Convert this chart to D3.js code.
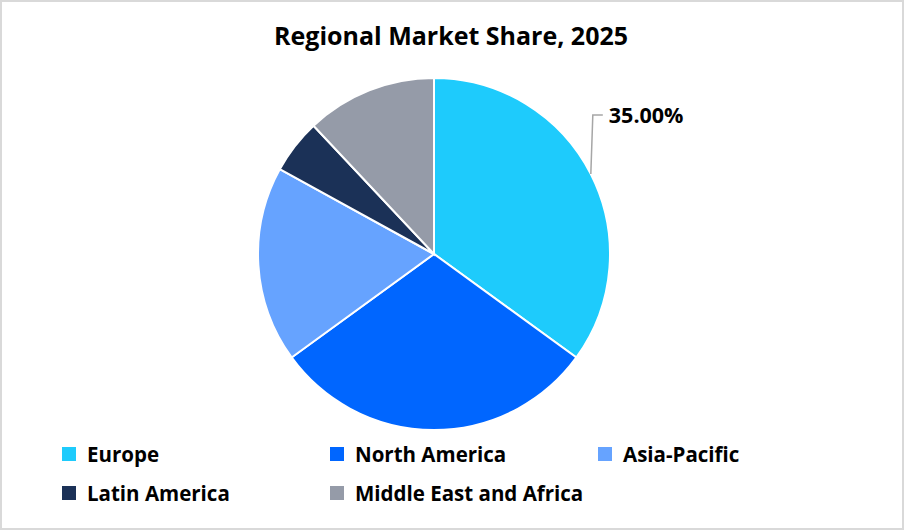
<!DOCTYPE html>
<html lang="en">
<head>
    <meta charset="UTF-8">
    <title>Regional Market Share, 2025</title>
    <script src="https://d3js.org/d3.v7.min.js"></script>
    <style>
        body { margin: 0; background: #fff; }
        text { font-family: "Open Sans", "Noto Sans", sans-serif; font-weight: bold; fill: #000; }
        .slice { stroke: #fff; stroke-width: 2px; }
        .leader { fill: none; stroke: #a6a6a6; stroke-width: 1.5px; }
    </style>
</head>
<body>
    <svg width="905" height="531"></svg>
    <script>
        // Chart data
        const regions = ['Europe', 'North America', 'Asia-Pacific', 'Latin America', 'Middle East and Africa'];
        const shares = [35, 30, 18, 5, 12];
        const colors = ['#1ecbfc', '#0066ff', '#66a3ff', '#1b3157', '#959ba8'];
        const labelled = ['Europe'];   // only this slice carries a data label

        const svg = d3.select('svg');

        // chart border
        svg.append('rect')
            .attr('x', 1).attr('y', 1)
            .attr('width', 902).attr('height', 528)
            .attr('fill', '#fff')
            .attr('stroke', '#d9d9d9')
            .attr('stroke-width', 2);

        // title
        svg.append('text')
            .attr('x', 451).attr('y', 45)
            .attr('text-anchor', 'middle')
            .style('font-size', '25px')
            .text('Regional Market Share, 2025');

        const cx = 434, cy = 254, r = 176;
        const g = svg.append('g').attr('transform', `translate(${cx},${cy})`);

        const pie = d3.pie().sort(null).value((d, i) => shares[i]);
        const arcs = pie(regions);
        const arc = d3.arc().innerRadius(0).outerRadius(r);
        const color = d3.scaleOrdinal().domain(regions).range(colors);

        g.selectAll('.slice')
            .data(arcs)
            .enter().append('path')
            .attr('class', 'slice')
            .attr('d', arc)
            .attr('fill', d => color(d.data));

        // data label with leader line
        const total = d3.sum(shares);
        const lab = arcs.filter(d => labelled.includes(d.data));
        lab.forEach(d => {
            const mid = (d.startAngle + d.endAngle) / 2;
            const x0 = Math.sin(mid) * r, y0 = -Math.cos(mid) * r;
            const ly = y0 - 59;
            g.append('path')
                .attr('class', 'leader')
                .attr('d', `M${x0},${y0}L${x0 + 2},${ly}L${x0 + 12},${ly}`);
            g.append('text')
                .attr('x', x0 + 18).attr('y', ly + 8)
                .style('font-size', '21.5px')
                .text(d3.format('.2%')(d.value / total));
        });

        // legend
        const legendPos = [[62, 447], [330, 447], [598, 447], [62, 486], [330, 486]];
        const legend = svg.selectAll('.legend')
            .data(regions)
            .enter().append('g')
            .attr('class', 'legend')
            .attr('transform', (d, i) => `translate(${legendPos[i][0]},${legendPos[i][1]})`);
        legend.append('rect')
            .attr('width', 14).attr('height', 14)
            .attr('fill', d => color(d));
        legend.append('text')
            .attr('x', 25).attr('y', 15)
            .style('font-size', '20.5px')
            .text(d => d);
    </script>
</body>
</html>
